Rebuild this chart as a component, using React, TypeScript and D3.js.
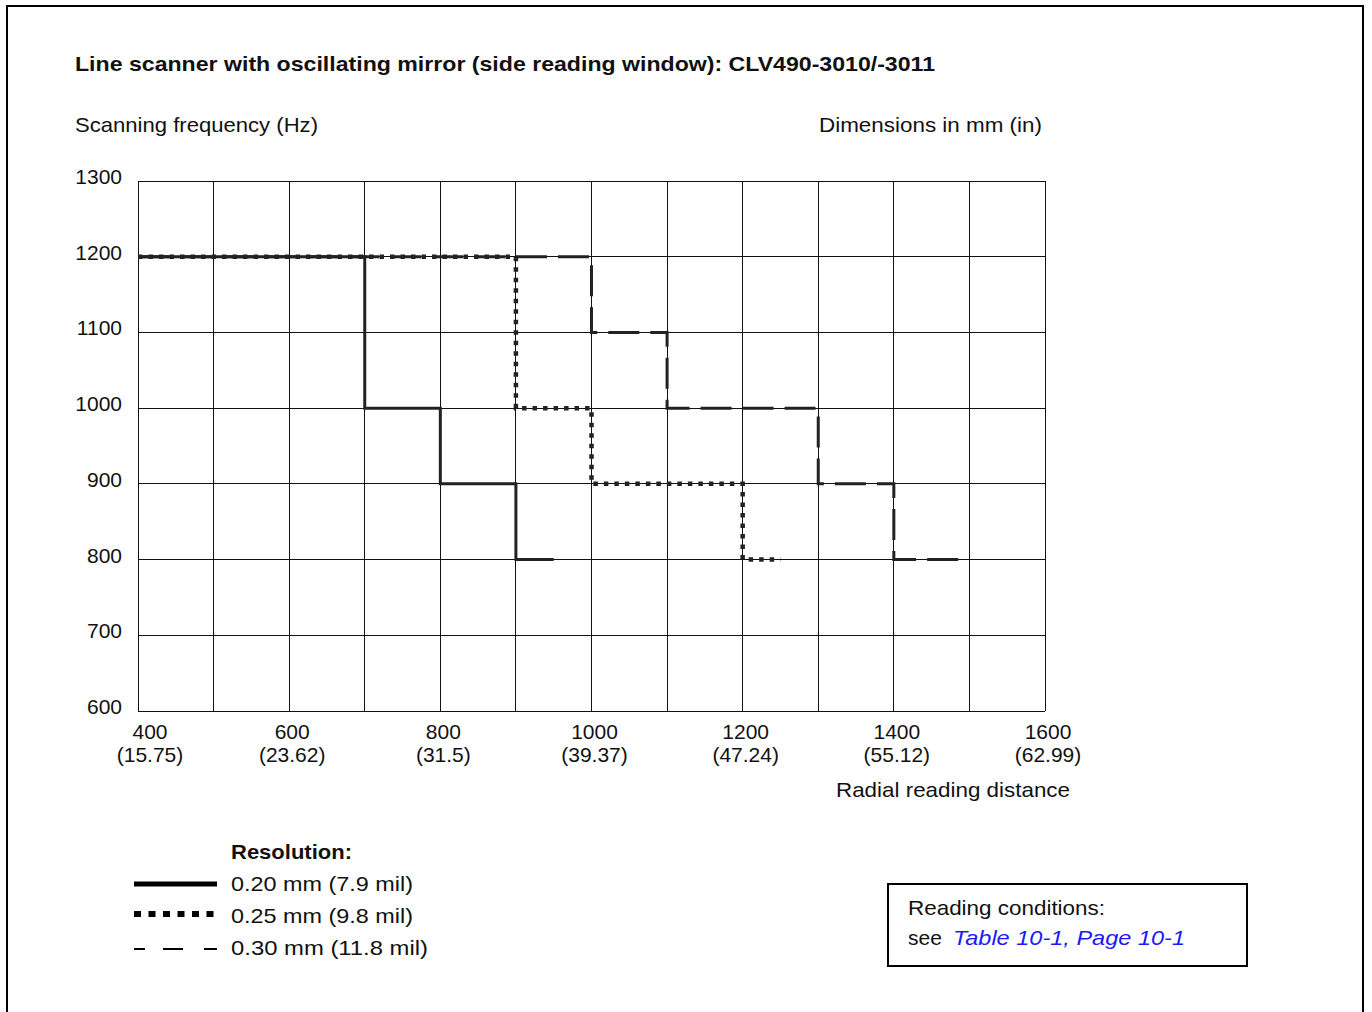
import React from 'react';
import * as d3 from 'd3';

// step curves: distance (mm) where each frequency level begins
const res020Dist = [400, 700, 800, 900, 950];
const res020Freq = [1200, 1000, 900, 800, 800];
const res025Dist = [400, 900, 1000, 1200, 1250];
const res025Freq = [1200, 1000, 900, 800, 800];
const res030Dist = [400, 1000, 1100, 1300, 1400, 1500];
const res030Freq = [1200, 1100, 1000, 900, 800, 800];

const xTicksMm = [400, 600, 800, 1000, 1200, 1400, 1600];
const xTicksIn = ['(15.75)', '(23.62)', '(31.5)', '(39.37)', '(47.24)', '(55.12)', '(62.99)'];
const yTicks = [600, 700, 800, 900, 1000, 1100, 1200, 1300];
const legendLabels = ['0.20 mm (7.9 mil)', '0.25 mm (9.8 mil)', '0.30 mm (11.8 mil)'];
const legendWidths = [182, 182, 197];

const W = 1372;
const H = 1012;
const FONT = '"Liberation Sans", Arial, sans-serif';
const INK = '#222';
const FS = 21;

export default function App() {
  const x = d3.scaleLinear().domain([400, 1600]).range([138, 1045]);
  const y = d3.scaleLinear().domain([600, 1300]).range([711, 181]);

  const step = d3.line<[number, number]>()
    .x(d => x(d[0]))
    .y(d => y(d[1]))
    .curve(d3.curveStepAfter);

  const pts = (ds: number[], fs: number[]) => ds.map((d, i) => [d, fs[i]] as [number, number]);

  const gridX = d3.range(400, 1601, 100);
  const [x0, x1] = x.range();
  const [y0, y1] = y.range();

  return (
    <svg width={W} height={H} style={{ position: 'absolute', left: 0, top: 0, background: '#fff' }}
      fontFamily={FONT} fill="#111">
      {/* outer frame, open at the bottom */}
      <path d={`M7,${H} V6 H1363 V${H}`} fill="none" stroke="#000" strokeWidth={2} />

      <text x={75} y={71} fontSize={FS} fontWeight="bold" textLength={860} lengthAdjust="spacingAndGlyphs">
        Line scanner with oscillating mirror (side reading window): CLV490-3010/-3011
      </text>
      <text x={75} y={132} fontSize={FS} textLength={243} lengthAdjust="spacingAndGlyphs">Scanning frequency (Hz)</text>
      <text x={819} y={132} fontSize={FS} textLength={223} lengthAdjust="spacingAndGlyphs">Dimensions in mm (in)</text>

      {/* grid */}
      <g stroke="#111" strokeWidth={1} shapeRendering="crispEdges">
        {gridX.map(v => (
          <line key={'gx' + v} x1={x(v)} x2={x(v)} y1={y1} y2={y0} />
        ))}
        {yTicks.map(v => (
          <line key={'gy' + v} x1={x0} x2={x1} y1={y(v)} y2={y(v)} />
        ))}
      </g>

      {/* y tick labels */}
      {yTicks.map(v => (
        <text key={'yl' + v} x={122} y={y(v) + 3} fontSize={FS} textAnchor="end">{v}</text>
      ))}

      {/* x tick labels */}
      {xTicksMm.map((v, i) => (
        <g key={'xl' + v} transform={`translate(${x(v) + (i === 0 ? 12 : 3)},${y0})`} fontSize={FS} textAnchor="middle">
          <text y={28}>{v}</text>
          <text y={51}>{xTicksIn[i]}</text>
        </g>
      ))}
      <text x={836} y={797} fontSize={FS} textLength={234} lengthAdjust="spacingAndGlyphs">Radial reading distance</text>

      {/* series */}
      <path d={step(pts(res020Dist, res020Freq)) || ''} fill="none" stroke={INK} strokeWidth={3} />
      <path d={step(pts(res030Dist, res030Freq)) || ''} fill="none" stroke={INK} strokeWidth={3}
        strokeDasharray="31 11" />
      <path d={step(pts(res025Dist, res025Freq)) || ''} fill="none" stroke={INK} strokeWidth={4.5}
        strokeDasharray="4.5 6" />

      {/* legend */}
      <text x={231} y={859} fontSize={FS} fontWeight="bold" textLength={121} lengthAdjust="spacingAndGlyphs">Resolution:</text>
      <line x1={134} x2={217} y1={884} y2={884} stroke="#000" strokeWidth={5} />
      <line x1={134} x2={217} y1={914} y2={914} stroke="#000" strokeWidth={6} strokeDasharray="7 7.5" />
      <line x1={134} x2={217} y1={949} y2={949} stroke="#000" strokeWidth={2} strokeDasharray="11 18 20 21 13" />
      {legendLabels.map((l, i) => (
        <text key={l} x={231} y={891 + i * 32} fontSize={FS} textLength={legendWidths[i]}
          lengthAdjust="spacingAndGlyphs">{l}</text>
      ))}

      {/* reading conditions box */}
      <rect x={888} y={884} width={359} height={82} fill="none" stroke="#000" strokeWidth={2} />
      <text x={908} y={915} fontSize={FS} textLength={197} lengthAdjust="spacingAndGlyphs">Reading conditions:</text>
      <text x={908} y={945} fontSize={FS}>see</text>
      <text x={953} y={945} fontSize={FS} fill="#1a1aff" fontStyle="italic" textLength={232}
        lengthAdjust="spacingAndGlyphs">Table 10-1, Page 10-1</text>
    </svg>
  );
}
